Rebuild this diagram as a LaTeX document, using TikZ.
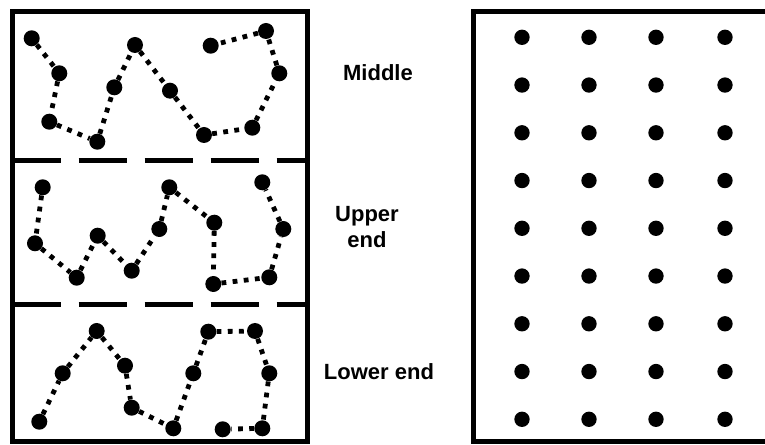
\documentclass[tikz,border=0pt]{standalone}
\usepackage{fontspec}
\setmainfont{Liberation Sans}
\tikzset{
  walkdot/.style={circle,fill=black,inner sep=0pt,minimum size=12pt},
  griddot/.style={circle,fill=black,inner sep=0pt,minimum size=11.5pt},
  walk/.style={line width=3.6pt,dash pattern=on 3.6pt off 4.8pt},
  frame/.style={line width=3.75pt},
  split/.style={line width=3.75pt,dash pattern=on 36pt off 13.5pt},
  lbl/.style={font=\bfseries\fontsize{16.5}{19}\selectfont,align=center}
}
\begin{document}
\begin{tikzpicture}[x=0.75pt,y=-0.75pt]
  \clip (0,0) rectangle (765,445);
  % left panel with the three walks
  \draw[frame] (12.5,12) rectangle (307.5,442);
  \draw[split] (12.5,161) -- (307.5,161);
  \draw[split] (12.5,305) -- (307.5,305);
  \foreach \n/\x/\y in {1/31.7/38.3,2/59.3/73.3,3/49.3/121.7,4/97.3/141.7,5/114.3/87.3,6/135/45,
                        7/170/90.7,8/204/135,9/252.3/127.7,10/279.3/73.3,11/266/31,12/210.7/45.7} {
    \node[walkdot] (m\n) at (\x,\y) {};
  }
  \foreach \n/\x/\y in {1/42.7/187.3,2/35/243.3,3/76.7/277.7,4/97.7/235.7,5/131.7/270.7,6/159.3/229,
                        7/169.3/187.3,8/214.3/222.7,9/213.3/284,10/269.3/277.3,11/283.3/229,12/262.3/182.3} {
    \node[walkdot] (u\n) at (\x,\y) {};
  }
  \foreach \n/\x/\y in {1/39.3/421.7,2/62.7/373.3,3/96.7/331,4/125/365.7,5/131.7/407.7,6/173.3/428.3,
                        7/193.3/373.3,8/208.3/331.7,9/255/331,10/269.3/373.3,11/262.3/428.3,12/222.7/429.3} {
    \node[walkdot] (l\n) at (\x,\y) {};
  }
  \foreach \w in {m,u,l} {
    \foreach \i [evaluate=\i as \j using int(\i+1)] in {1,...,11} {
      \draw[walk] (\w\i) -- (\w\j);
    }
  }
  % labels
  \node[lbl] (mid) at (378,73) {Middle};
  \node[lbl] (upp) at (367,227) {Upper\\end};
  \node[lbl] (low) at (379,372) {Lower end};
  % right panel, regular grid
  \draw[frame] (473,11.5) rectangle (800,441.5);
  \foreach \c/\gx in {1/522,2/589,3/656,4/725} {
    \foreach \r in {0,...,8} {
      \node[griddot] (g\c-\r) at (\gx,{37.3+47.75*\r}) {};
    }
  }
\end{tikzpicture}
\end{document}
